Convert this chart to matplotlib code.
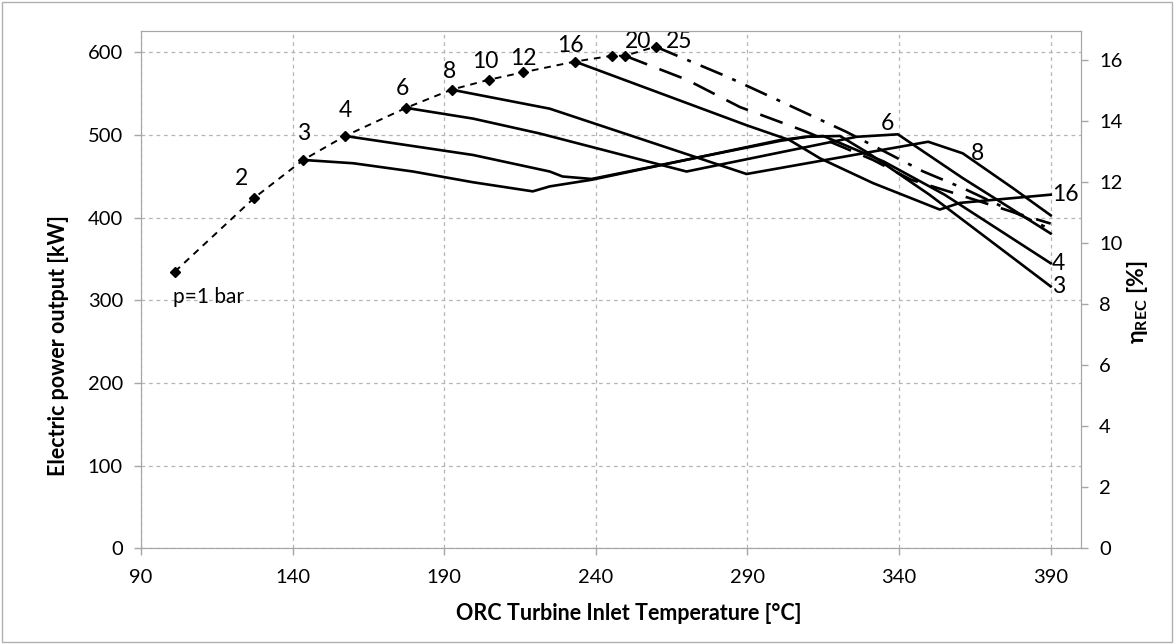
import matplotlib
matplotlib.use("Agg")
import matplotlib.pyplot as plt
from matplotlib.patches import Rectangle

plt.rcParams['font.family'] = ['Lato', 'DejaVu Sans']

# Saturation curve (dashed, with markers)
sat_T = [101.2, 127.3, 143.5, 157.3, 177.4, 192.4, 204.7, 216.0, 233.1, 245.2, 249.6, 259.7]
sat_P = [335, 424, 470, 499, 533, 555, 567, 576, 589, 596, 596, 607]
sat_labels = ["p=1 bar", "2", "3", "4", "6", "8", "10", "12", "16", "", "20", "25"]
lab_T = [100.5, 123.0, 143.7, 157.3, 176.3, 191.6, 203.7, 216.0, 231.7, None, 254.0, 267.5]
lab_P = [304, 447, 502, 530, 557, 577, 589, 593, 609, None, 613, 613]

# Solid curves per pressure level
p3_T = [143.5, 160, 179.7, 199.5, 219.2, 224.8, 238.6, 300.7, 309.5, 320.5, 330, 350, 390]
p3_P = [470, 466, 456, 443, 432, 438, 446, 494, 498, 499, 478, 428, 317]
p4_T = [157.3, 199.5, 224.8, 229.0, 238.6, 300.7, 309.5, 315, 335, 355, 390]
p4_P = [499, 476, 456, 450, 447, 493, 498, 499, 468, 428, 345]
p6_T = [177.4, 199.5, 221.5, 269.9, 326.0, 339.6, 361, 390]
p6_P = [533, 520, 502, 456, 498, 501, 448, 381]
p8_T = [192.4, 224.8, 289.7, 349.6, 361, 377.5, 390]
p8_P = [555, 532, 453, 492, 478, 436, 403]
p16_T = [233.1, 289.7, 303.9, 313.9, 331.4, 353.4, 360, 390]
p16_P = [589, 512, 494, 472, 442, 410, 418, 428]
p20_T = [249.6, 270, 287.5, 309.5, 331.4, 344, 358, 377.5, 390]
p20_P = [596, 567, 534, 504, 470, 446, 430, 407, 393]
p25_T = [259.7, 283.1, 298.5, 322.6, 348, 361, 390]
p25_P = [607, 571, 545, 504, 456, 436, 386]

end_labels = ["16", "4", "3"]
end_P = [428, 345, 317]
mid_labels = ["6", "8"]
mid_T = [336, 366]
mid_P = [514, 478]

x_ticks = [90, 140, 190, 240, 290, 340, 390]
y_ticks = [0, 100, 200, 300, 400, 500, 600]
y2_ticks = [0, 2, 4, 6, 8, 10, 12, 14, 16]

fig = plt.figure(figsize=(11.74, 6.44), dpi=100)
fig.patches.append(Rectangle((0.002, 0.003), 0.996, 0.994, transform=fig.transFigure,
                             fill=False, edgecolor='#b0b0b0', linewidth=1.0))
ax = fig.add_axes([0.1201, 0.1483, 0.8007, 0.8036])
ax2 = ax.twinx()

fs = 14.5
lfs = 16.5
gridc = '#b5b5b5'
spc = '#a6a6a6'

ax.set_xlim(90, 400)
ax.set_ylim(0, 626)
ax2.set_ylim(0, 16.95)
ax.set_xticks(x_ticks)
ax.set_yticks(y_ticks)
ax2.set_yticks(y2_ticks)
ax.grid(True, linestyle=(0, (3, 3)), color=gridc, linewidth=0.9)
ax.set_axisbelow(True)

for a in (ax, ax2):
    for s in a.spines.values():
        s.set_color(spc)
    a.tick_params(colors=spc, labelcolor='black', labelsize=fs, length=5, width=1)
ax.tick_params(axis='y', pad=8)
ax2.tick_params(axis='y', pad=8)
ax.tick_params(axis='x', pad=10)

ax.set_xlabel("ORC Turbine Inlet Temperature [°C]", fontsize=15.5, fontweight='bold')
ax.xaxis.set_label_coords(0.519, -0.106)
ax.set_ylabel("Electric power output [kW]", fontsize=15.5, fontweight='bold')
ax.yaxis.set_label_coords(-0.077, 0.393)
ax2.set_ylabel(r"η$_\mathregular{REC}$ [%]", fontsize=16.5, fontweight='bold')
ax2.yaxis.set_label_coords(1.047, 0.476)

lw = 1.9
for T, P in [(p3_T, p3_P), (p4_T, p4_P), (p6_T, p6_P), (p8_T, p8_P), (p16_T, p16_P)]:
    ax.plot(T, P, color='black', linewidth=lw, solid_joinstyle='round')
ax.plot(p20_T, p20_P, color='black', linewidth=lw, linestyle=(0, (9, 5)))
ax.plot(p25_T, p25_P, color='black', linewidth=lw, linestyle=(0, (9, 4, 1.5, 4)))

ax.plot(sat_T, sat_P, color='black', linewidth=1.4, linestyle=(0, (3.5, 3)),
        marker='D', markersize=5, zorder=5)

for i, lab in enumerate(sat_labels):
    if not lab:
        continue
    if i == 0:
        ax.text(lab_T[i], lab_P[i], lab, fontsize=fs + 0.5, ha='left', va='center')
    else:
        ax.text(lab_T[i], lab_P[i], lab, fontsize=lfs, ha='center', va='center')

for lab, P in zip(end_labels, end_P):
    ax.text(390.5, P, lab, fontsize=lfs, ha='left', va='center')
for lab, T, P in zip(mid_labels, mid_T, mid_P):
    ax.text(T, P, lab, fontsize=lfs, ha='center', va='center')

fig.savefig("out.png", dpi=100)
